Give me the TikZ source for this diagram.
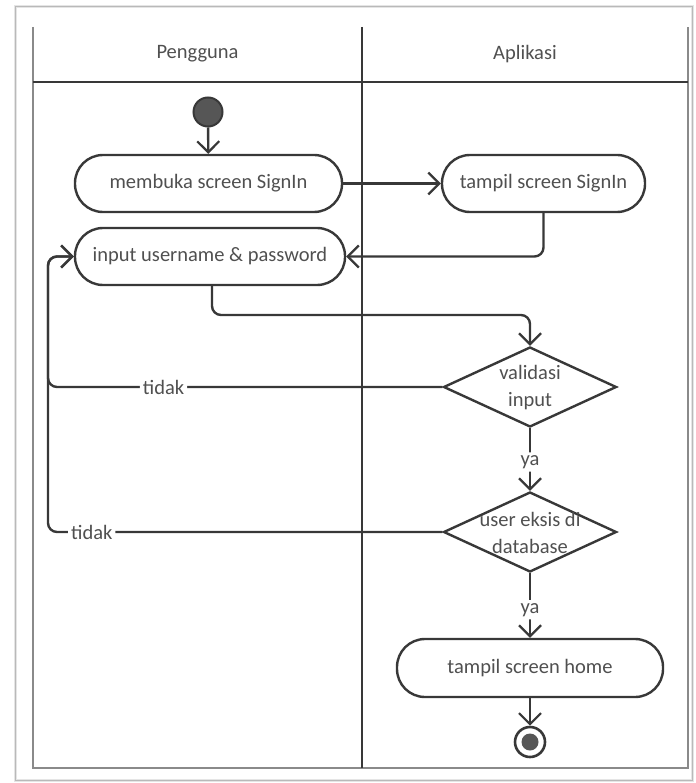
\documentclass[tikz,border=0pt]{standalone}
\usepackage{fontspec}
\setmainfont{Carlito}
\usetikzlibrary{arrows.meta,shapes.geometric}
\definecolor{ink}{HTML}{383838}
\definecolor{txt}{HTML}{505050}
\definecolor{lane}{HTML}{8A8A8A}
\begin{document}
\begin{tikzpicture}[x=1pt,y=-1pt,
  font=\fontsize{20.5}{27}\selectfont,
  flow/.style={draw=ink, line width=2.4pt, rounded corners=9pt,
    -{Straight Barb[length=11pt,width=22pt,line width=2.2pt]}},
  act/.style={draw=ink, line width=2.4pt, rounded corners=28pt, fill=white,
    text=txt, minimum height=57pt, inner sep=0pt},
  decide/.style={diamond, draw=ink, line width=2.4pt, fill=white,
    minimum width=173pt, minimum height=80pt, inner sep=0pt},
  dtext/.style={text=txt, align=center, inner sep=0pt},
  lbl/.style={text=txt, fill=white, inner sep=3pt},
  head/.style={text=txt}]
\useasboundingbox (0,0) rectangle (695,783);
% page frame with soft edge
\draw[gray!20, line width=3pt] (15,7) rectangle (692,780);
\draw[gray!55, line width=1pt] (15,7) rectangle (692,780);
% swimlane table
\draw[lane, line width=1.3pt] (33,27) -- (33,768) -- (688,768) -- (688,27);
\draw[ink, line width=1.8pt] (33,82) -- (688,82);
\draw[ink, line width=1.8pt] (362,27) -- (362,768);
\node[head] (lane1) at (197.5,54) {Pengguna};
\node[head] (lane2) at (525,54) {Aplikasi};
% activities
\node[circle, draw=ink, fill=ink!85, line width=2pt, minimum size=29pt, inner sep=0pt] (start) at (208,112) {};
\node[act, minimum width=267pt] (open) at (208.5,183.5) {membuka screen SignIn};
\node[act, minimum width=203pt] (show) at (543.5,183.5) {tampil screen SignIn};
\node[act, minimum width=270pt] (input) at (210,256.5) {input username \& password};
\node[decide] (valid) at (530,387) {};
\node[dtext] (validtxt) at (530,388) {validasi\\input};
\node[decide] (exists) at (530,532) {};
\node[dtext] (existstxt) at (530,533) {user eksis di\\database};
\node[act, minimum width=266pt, minimum height=58pt] (home) at (530,668) {tampil screen home};
\node[circle, draw=ink, line width=2.6pt, fill=white, minimum size=30pt, inner sep=0pt] (stop) at (530,742) {};
\node[circle, fill=ink!85, minimum size=17pt, inner sep=0pt] (stopdot) at (stop.center) {};
\coordinate (loopx) at (48,0);
% connectors
\draw[flow] (start) -- (open);
\draw[flow] (open) -- (show);
\draw[flow] (show.south) -- (show.south |- input.east) -- (input.east);
\draw[flow] (212,285) -- (212,315) -- (530,315) -- (valid.north);
\draw[flow] (valid.west) -- node[lbl, pos=0.707] {tidak} (loopx |- valid.west) -- (loopx |- input.west) -- (input.west);
\draw[flow] (exists.west) -- node[lbl, pos=0.889] {tidak} (loopx |- exists.west) -- (loopx |- input.west) -- (input.west);
\draw[flow] (valid.south) -- node[lbl, pos=0.54] {ya} (exists.north);
\draw[flow] (exists.south) -- node[lbl, pos=0.567] {ya} (home.north);
\draw[flow] (home.south) -- (stop.north);
\end{tikzpicture}
\end{document}
